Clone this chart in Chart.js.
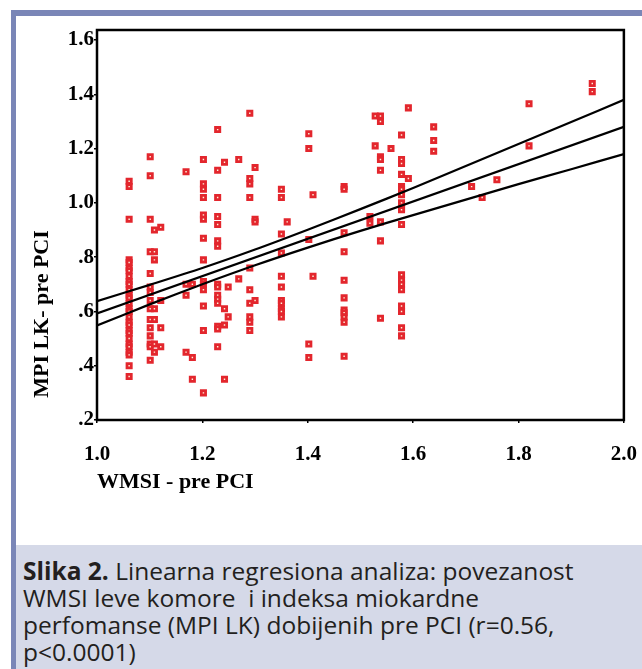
<!DOCTYPE html>
<html>
<head>
<meta charset="utf-8">
<script src="https://cdn.jsdelivr.net/npm/chart.js@4"></script>
<style>
  html, body { margin: 0; padding: 0; background: #fff; }
  #page { position: relative; width: 642px; height: 669px; overflow: hidden; background: #fff; }
  #frameTop { position: absolute; left: 11px; top: 10px; width: 631px; height: 6px; background: #7a86b7; }
  #frameLeft { position: absolute; left: 11px; top: 10px; width: 5px; height: 659px; background: #7a86b7; }
  #chartBox { position: absolute; left: 16px; top: 16px; width: 640px; height: 529px; }
  #caption {
    position: absolute; left: 16px; top: 545px; width: 619px; height: 112px;
    background: #d5d9e8; padding: 12px 0 0 7px;
    font-family: "Open Sans", sans-serif; font-size: 24.5px; line-height: 27px;
    color: #231f20; white-space: nowrap;
  }
</style>
</head>
<body>
<div id="page">
  <div id="frameTop"></div>
  <div id="frameLeft"></div>
  <div id="chartBox"><canvas id="chart" width="640" height="529"></canvas></div>
  <div id="caption"><b>Slika 2.</b> Linearna regresiona analiza: povezanost<br>WMSI leve komore&nbsp; i indeksa miokardne<br>perfomanse (MPI LK) dobijenih pre PCI (r=0.56,<br>p&lt;0.0001)</div>
</div>
<script>
// osa x / osa y
const xTicks = [1.0, 1.2, 1.4, 1.6, 1.8, 2.0];
const xTickLabels = ['1.0', '1.2', '1.4', '1.6', '1.8', '2.0'];
const yTicks = [0.2, 0.4, 0.6, 0.8, 1.0, 1.2, 1.4, 1.6];
const yTickLabels = ['.2', '.4', '.6', '.8', '1.0', '1.2', '1.4', '1.6'];
const xTitle = 'WMSI - pre PCI';
const yTitle = 'MPI LK- pre PCI';

// WMSI vrednosti (kolone tacaka)
const colX = [1.061, 1.101, 1.109, 1.121, 1.169, 1.181, 1.202, 1.229, 1.242, 1.249,
              1.269, 1.290, 1.300, 1.350, 1.361, 1.402, 1.410, 1.469, 1.518, 1.528,
              1.538, 1.558, 1.578, 1.591, 1.639, 1.711, 1.731, 1.759, 1.820, 1.940];

// MPI vrednosti po kolonama
const colY = [
  [1.08, 1.06, 0.94, 0.79, 0.78, 0.76, 0.75, 0.73, 0.71, 0.70, 0.68, 0.66, 0.65, 0.63,
   0.61, 0.60, 0.58, 0.56, 0.55, 0.53, 0.52, 0.50, 0.48, 0.47, 0.45, 0.44, 0.40, 0.36],
  [1.17, 1.10, 0.94, 0.82, 0.74, 0.69, 0.67, 0.64, 0.61, 0.57, 0.54, 0.51, 0.48, 0.47, 0.42],
  [0.90, 0.82, 0.79, 0.61, 0.57, 0.48, 0.45],
  [0.91, 0.64, 0.54, 0.47],
  [1.115, 0.70, 0.66, 0.45],
  [0.70, 0.43, 0.35],
  [1.16, 1.07, 1.05, 1.02, 0.955, 0.94, 0.87, 0.79, 0.71, 0.70, 0.68, 0.62, 0.53, 0.30],
  [1.27, 1.12, 1.02, 0.95, 0.92, 0.86, 0.84, 0.70, 0.69, 0.66, 0.645, 0.63, 0.545, 0.535, 0.47],
  [1.15, 0.61, 0.55, 0.35],
  [0.69, 0.58],
  [1.16, 0.72],
  [1.33, 1.09, 1.07, 1.02, 0.76, 0.68, 0.63, 0.58, 0.56, 0.53],
  [1.13, 0.94, 0.93, 0.64],
  [1.05, 1.02, 0.885, 0.815, 0.73, 0.69, 0.64, 0.63, 0.61, 0.60, 0.58],
  [0.93],
  [1.255, 1.20, 0.865, 0.48, 0.43],
  [1.03, 0.73],
  [1.06, 1.05, 0.89, 0.82, 0.715, 0.65, 0.605, 0.595, 0.58, 0.56, 0.435],
  [0.95, 0.925],
  [1.32, 1.21],
  [1.32, 1.30, 1.17, 1.16, 1.12, 0.93, 0.86, 0.575],
  [1.20],
  [1.25, 1.16, 1.145, 1.105, 1.06, 1.05, 1.03, 1.00, 0.98, 0.975, 0.92, 0.735, 0.715,
   0.70, 0.68, 0.62, 0.60, 0.54, 0.51],
  [1.35, 1.09],
  [1.28, 1.23, 1.19],
  [1.06],
  [1.02],
  [1.085],
  [1.365, 1.21],
  [1.44, 1.41]
];

// regresiona prava i 95% interval
const fitX = [1.0, 2.0];
const fitY = [0.593, 1.280];
const bandX = [1.0, 1.1, 1.2, 1.3, 1.4, 1.5, 1.6, 1.7, 1.8, 1.9, 2.0];
const upperY = [0.638, 0.698, 0.760, 0.828, 0.901, 0.977, 1.055, 1.136, 1.217, 1.298, 1.380];
const lowerY = [0.548, 0.626, 0.700, 0.770, 0.835, 0.897, 0.955, 1.012, 1.069, 1.124, 1.180];

const serif = 'Liberation Serif, "Times New Roman", serif';

function toPoints(xs, ys) {
    return xs.map((x, i) => ({ x: x, y: ys[i] }));
}

const scatterPoints = [];
colX.forEach((x, i) => {
    colY[i].forEach(y => scatterPoints.push({ x: x, y: y }));
});

// okvir oko grafika
const framePlugin = {
    id: 'frame',
    afterDatasetsDraw(chart) {
        const { ctx, chartArea: a } = chart;
        ctx.save();
        ctx.strokeStyle = '#000';
        ctx.lineWidth = 2.5;
        ctx.strokeRect(a.left, a.top, a.right - a.left, a.bottom - a.top);
        ctx.restore();
    }
};

// naslov y ose (nije centriran na osi)
const yTitlePlugin = {
    id: 'yTitle',
    afterDraw(chart) {
        const ctx = chart.ctx;
        ctx.save();
        ctx.translate(26, 298);
        ctx.rotate(-Math.PI / 2);
        ctx.font = 'bold 22px ' + serif;
        ctx.fillStyle = '#000';
        ctx.textAlign = 'center';
        ctx.textBaseline = 'middle';
        ctx.fillText(yTitle, 0, 0);
        ctx.restore();
    }
};

const lineStyle = {
    showLine: true,
    pointRadius: 0,
    borderColor: '#000',
    borderWidth: 2.2,
    fill: false,
    order: 1
};

new Chart(document.getElementById('chart'), {
    type: 'scatter',
    data: {
        datasets: [
            Object.assign({ label: 'gornja', data: toPoints(bandX, upperY), tension: 0.3 }, lineStyle),
            Object.assign({ label: 'regresija', data: toPoints(fitX, fitY), tension: 0 }, lineStyle),
            Object.assign({ label: 'donja', data: toPoints(bandX, lowerY), tension: 0.3 }, lineStyle),
            {
                label: 'MPI',
                data: scatterPoints,
                pointStyle: 'rect',
                pointRadius: 3,
                pointBorderWidth: 2.8,
                pointBorderColor: '#e3262d',
                pointBackgroundColor: '#fff4dc',
                order: 2
            }
        ]
    },
    options: {
        responsive: false,
        animation: false,
        layout: { padding: { left: 0, right: 6, top: 14, bottom: 49 } },
        plugins: {
            legend: { display: false },
            tooltip: { enabled: false }
        },
        scales: {
            x: {
                type: 'linear',
                min: 1.0,
                max: 2.0,
                afterBuildTicks: s => { s.ticks = xTicks.map(v => ({ value: v })); },
                afterFit: s => { s.height = 76; },
                border: { display: false },
                grid: { drawOnChartArea: false, drawTicks: true, tickLength: 3, color: '#000', lineWidth: 1.5 },
                ticks: {
                    padding: 19,
                    color: '#000',
                    font: { family: serif, weight: 'bold', size: 21 },
                    maxRotation: 0,
                    callback: (v, i) => xTickLabels[i]
                },
                title: {
                    display: true,
                    text: xTitle,
                    align: 'start',
                    color: '#000',
                    padding: 0,
                    font: { family: serif, weight: 'bold', size: 22 }
                }
            },
            y: {
                type: 'linear',
                min: 0.2,
                max: 1.637,
                afterBuildTicks: s => { s.ticks = yTicks.map(v => ({ value: v })); },
                afterFit: s => { s.width = 81; },
                border: { display: false },
                grid: { drawOnChartArea: false, drawTicks: true, tickLength: 3, color: '#000', lineWidth: 1.5 },
                ticks: {
                    padding: 0,
                    color: '#000',
                    font: { family: serif, weight: 'bold', size: 21 },
                    callback: (v, i) => yTickLabels[i]
                }
            }
        }
    },
    plugins: [framePlugin, yTitlePlugin]
});
</script>
</body>
</html>
